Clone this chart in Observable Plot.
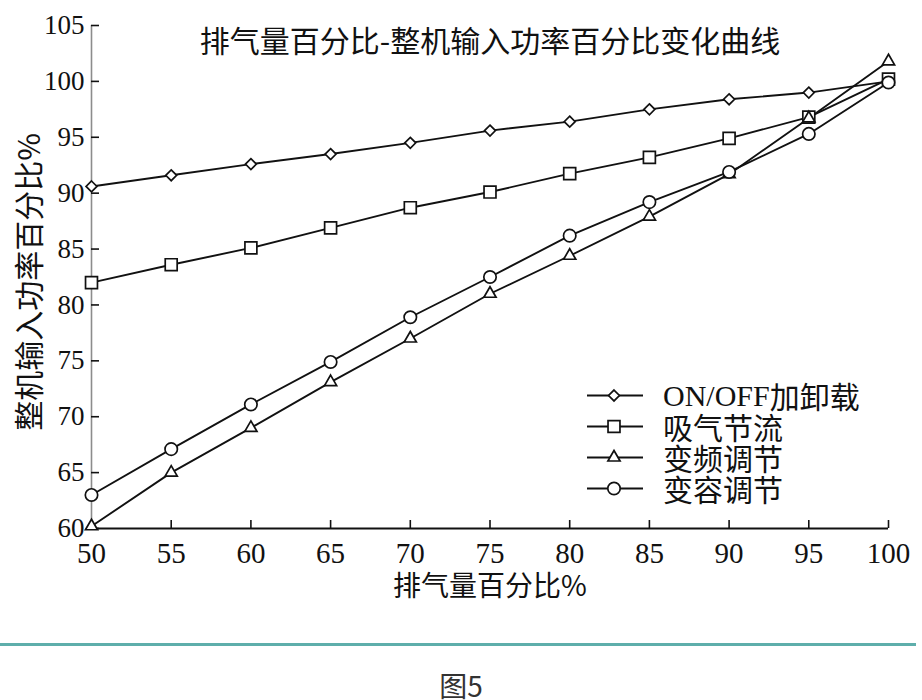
<!DOCTYPE html>
<html><head><meta charset="utf-8">
<script src="https://cdn.jsdelivr.net/npm/d3@7"></script>
<script src="https://cdn.jsdelivr.net/npm/@observablehq/plot@0.6"></script>
<style>
body{margin:0;background:#fff;width:922px;height:700px;overflow:hidden;position:relative;font-family:"Noto Sans CJK SC",sans-serif;}
#chart{position:absolute;left:0;top:0;}
#rule{position:absolute;left:0;top:643px;width:916px;height:3px;background:#5eaeab;}
#caption{position:absolute;left:0;width:922px;top:670px;text-align:center;font-size:28px;color:#333;line-height:30px;}
#legend{position:absolute;left:587px;top:380px;}
.row{display:flex;align-items:center;height:31px;}
.row svg{display:block;margin-right:18px;}
.row span{font-size:30px;color:#111;line-height:31px;white-space:nowrap;}
.row .lat{font-family:"Liberation Serif",serif;}
</style></head>
<body>
<div id="chart"></div>
<div id="legend"></div>
<div id="rule"></div>
<div id="caption">图5</div>
<script>
// ---- data ----
const xValues = [50, 55, 60, 65, 70, 75, 80, 85, 90, 95, 100];
const onOffValues    = [90.6, 91.6, 92.6, 93.5, 94.5, 95.6, 96.4, 97.5, 98.4, 99.0, 100.0];
const throttleValues = [82.0, 83.6, 85.1, 86.9, 88.7, 90.1, 91.75, 93.2, 94.9, 96.8, 100.2];
const vfdValues      = [60.2, 65.0, 69.0, 73.1, 77.0, 81.0, 84.4, 87.9, 91.7, 96.7, 101.8];
const varCapValues   = [63.0, 67.1, 71.1, 74.9, 78.9, 82.5, 86.2, 89.2, 91.9, 95.3, 99.9];
const seriesNames = ["ON/OFF加卸载", "吸气节流", "变频调节", "变容调节"];
const seriesValues = [onOffValues, throttleValues, vfdValues, varCapValues];
const xTicks = [50, 55, 60, 65, 70, 75, 80, 85, 90, 95, 100];
const yTicks = [60, 65, 70, 75, 80, 85, 90, 95, 100, 105];
const titleText = "排气量百分比-整机输入功率百分比变化曲线";
const xLabelText = "排气量百分比%";
const yLabelText = "整机输入功率百分比%";

// ---- styles ----
const symbolStyles = [
  {symbol: "diamond2", r: 4.9},
  {symbol: "square2", r: 7.6},
  {symbol: "triangle2", r: 5.8},
  {symbol: "circle", r: 6.2}
];
const ink = "#111";

const table = [];
seriesNames.forEach((name, s) => {
  xValues.forEach((x, i) => table.push({series: name, x, y: seriesValues[s][i]}));
});

const marks = [
  Plot.ruleX([50], {stroke: "#8c8c8c", strokeWidth: 1.6}),
  Plot.ruleY([60], {stroke: ink, strokeWidth: 2}),
  Plot.axisY({ticks: yTicks, tickSize: -8, tickPadding: 15, tickFormat: d => String(d),
    fontSize: 27, fontFamily: "Liberation Serif", fill: ink, stroke: ink, strokeWidth: 1.6, label: null}),
  Plot.axisX({ticks: xTicks, tickSize: -8, tickPadding: 22, tickFormat: d => String(d),
    fontSize: 29, fontFamily: "Liberation Serif", fill: ink, stroke: ink, strokeWidth: 1.6, label: null}),
];
seriesNames.forEach((name) => {
  marks.push(Plot.line(table.filter(d => d.series === name), {x: "x", y: "y", stroke: ink, strokeWidth: 1.9}));
});
seriesNames.forEach((name, s) => {
  marks.push(Plot.dot(table.filter(d => d.series === name), {x: "x", y: "y",
    symbol: symbolStyles[s].symbol, r: symbolStyles[s].r, fill: "white", stroke: ink, strokeWidth: 1.7}));
});
marks.push(
  Plot.text([titleText], {frameAnchor: "top", dy: 17, fontSize: 30, fill: ink,
    fontFamily: "Noto Sans CJK SC", lineAnchor: "middle", textAnchor: "middle"}),
  Plot.text([xLabelText], {frameAnchor: "bottom", dy: 59, fontSize: 28, fill: ink,
    fontFamily: "Noto Sans CJK SC", lineAnchor: "middle", textAnchor: "middle"}),
  Plot.text([yLabelText], {frameAnchor: "left", dx: -61, dy: 5, rotate: -90, fontSize: 30, fill: ink,
    fontFamily: "Noto Sans CJK SC", lineAnchor: "middle", textAnchor: "middle"})
);

const chart = Plot.plot({
  width: 922,
  height: 615,
  marginLeft: 91,
  marginRight: 34,
  marginTop: 25,
  marginBottom: 87,
  style: {background: "white", overflow: "visible"},
  x: {domain: [50, 100]},
  y: {domain: [60, 105]},
  marks
});
document.getElementById("chart").appendChild(chart);

// ---- legend ----
const legend = document.getElementById("legend");
const symMap = {diamond2: d3.symbolDiamond2, square2: d3.symbolSquare2, triangle2: d3.symbolTriangle2, circle: d3.symbolCircle};
seriesNames.forEach((name, s) => {
  const row = document.createElement("div");
  row.className = "row";
  const st = symbolStyles[s];
  const path = d3.symbol(symMap[st.symbol], Math.PI * st.r * st.r)();
  const svgNS = "http://www.w3.org/2000/svg";
  const svg = document.createElementNS(svgNS, "svg");
  svg.setAttribute("width", 58); svg.setAttribute("height", 31);
  const line = document.createElementNS(svgNS, "line");
  line.setAttribute("x1", 0); line.setAttribute("x2", 56); line.setAttribute("y1", 15.5); line.setAttribute("y2", 15.5);
  line.setAttribute("stroke", ink); line.setAttribute("stroke-width", 1.9);
  const p = document.createElementNS(svgNS, "path");
  p.setAttribute("d", path); p.setAttribute("transform", "translate(27,15.5)");
  p.setAttribute("fill", "white"); p.setAttribute("stroke", ink); p.setAttribute("stroke-width", 1.7);
  svg.appendChild(line); svg.appendChild(p);
  row.appendChild(svg);
  const m = name.match(/^([A-Za-z\/]+)(.*)$/);
  const parts = m ? [[m[1], "lat"], [m[2], ""]] : [[name, ""]];
  parts.forEach(([t, cls]) => {
    const sp = document.createElement("span");
    if (cls) sp.className = cls;
    sp.textContent = t;
    row.appendChild(sp);
  });
  legend.appendChild(row);
});
</script>
</body></html>
